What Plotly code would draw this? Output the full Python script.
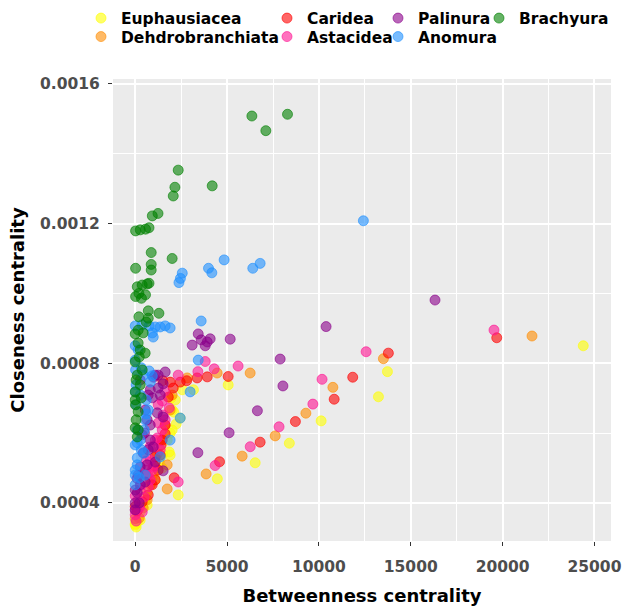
import plotly.graph_objects as go

# ---------------- data ----------------
groups = ["Euphausiacea", "Dehdrobranchiata", "Caridea", "Astacidea",
          "Palinura", "Anomura", "Brachyura"]

euph_x = [24390, 13730, 13240, 10120, 8390, 6530, 4470, 2340, 5060, 2560, 3170,
          2450, 2230, 2010, 1740, 1850, 1310, 1030, 820, 540, 270, 110, 50,
          0, 150, 380, 650, 900, 1200, 1500, 1900, 2100, 1950,
          2180, 2010, 1900, 1470, 1090, 650, 270, 0]
euph_y = [0.000850, 0.000776, 0.000704, 0.000635, 0.000571, 0.000515, 0.000469,
          0.000423, 0.000738, 0.000724, 0.000724, 0.000643, 0.000626, 0.000609,
          0.000580, 0.000546, 0.000517, 0.000486, 0.000452, 0.000409, 0.000374,
          0.000346, 0.000331, 0.000340, 0.000360, 0.000390, 0.000430, 0.000470,
          0.000500, 0.000540, 0.000600, 0.000660, 0.000700,
          0.000695, 0.000666, 0.000537, 0.000500, 0.000466, 0.000394, 0.000351,
          0.000337]

dend_x = [21600, 13510, 10760, 9290, 7620, 5820, 6256, 4460, 2830, 3860, 1740,
          2010, 1900, 1630, 1360, 1740, 820, 650, 435, 218, 0, 100, 1200]
dend_y = [0.000878, 0.000813, 0.000731, 0.000657, 0.000592, 0.000534, 0.000772,
          0.000772, 0.000758, 0.000483, 0.000440, 0.000709, 0.000666, 0.000623,
          0.000580, 0.000509, 0.000452, 0.000409, 0.000386, 0.000357, 0.000355,
          0.000380, 0.000540]

cari_x = [19680, 13780, 11840, 10830, 8720, 6800, 4590, 2120, 3370, 3920, 5060,
          1900, 2450, 2070, 1800, 1630, 1410, 1090, 1030, 1090, 710, 380, 110,
          2800, 1500, 0, 600, 1630, 1360, 1250, 925, 1470]
cari_y = [0.000873, 0.000829, 0.000760, 0.000697, 0.000633, 0.000574, 0.000518,
          0.000472, 0.000758, 0.000761, 0.000762, 0.000746, 0.000746, 0.000729,
          0.000703, 0.000598, 0.000566, 0.000532, 0.000506, 0.000466, 0.000423,
          0.000403, 0.000377, 0.000750, 0.000750, 0.000390, 0.000480, 0.000623,
          0.000537, 0.000494, 0.000452, 0.000580]

asta_x = [19530, 12570, 10170, 9670, 7830, 6260, 4350, 2340, 5600, 4300, 3410,
          3810, 2340, 1470, 1850, 1520, 1250, 1470, 1200, 1030, 980, 930, 820,
          710, 490, 220, 0, 50, 1600, 0, 300, 600, 800,
          1250, 1630, 1090, 1360, 816, 544, 707, 272, 163, 0, 381]
asta_y = [0.000895, 0.000833, 0.000754, 0.000683, 0.000618, 0.000561, 0.000507,
          0.000460, 0.000792, 0.000784, 0.000776, 0.000805, 0.000766, 0.000692,
          0.000672, 0.000652, 0.000629, 0.000609, 0.000586, 0.000563, 0.000503,
          0.000494, 0.000466, 0.000446, 0.000417, 0.000386, 0.000366, 0.000348,
          0.000720, 0.000420, 0.000450, 0.000520, 0.000560,
          0.000681, 0.000638, 0.000580, 0.000552, 0.000523, 0.000494, 0.000480,
          0.000437, 0.000409, 0.000380, 0.000374]

pali_x = [16320, 10390, 7890, 8040, 6650, 5110, 3410, 5170, 3430, 3100, 3920,
          4080, 3810, 3590, 1520, 1250, 1520, 820, 1250, 930, 1200, 1520, 650,
          820, 980, 435, 1090, 650, 270, 540, 110, 0, 220, 0, 100, 500, 1000,
          272, 707, 544, 816, 381, 707, 163, 0, 272, 1088, 1632, 1360]
pali_y = [0.000981, 0.000905, 0.000812, 0.000735, 0.000664, 0.000601, 0.000544,
          0.000869, 0.000884, 0.000852, 0.000861, 0.000870, 0.000850, 0.000867,
          0.000492, 0.000766, 0.000741, 0.000724, 0.000729, 0.000701, 0.000658,
          0.000646, 0.000638, 0.000580, 0.000560, 0.000543, 0.000517, 0.000509,
          0.000503, 0.000460, 0.000429, 0.000400, 0.000400, 0.000380, 0.000470,
          0.000600, 0.000760,
          0.000752, 0.000709, 0.000666, 0.000623, 0.000595, 0.000552, 0.000480,
          0.000437, 0.000452, 0.000766, 0.000775, 0.000709]

anom_x = [12420, 6800, 6400, 4840, 3990, 4170, 2560, 2460, 2380, 3590, 3430,
          2990, 2450, 1900, 1360, 0, 380, 760, 1090, 1360, 1630, 1900, 980, 930,
          20, 330, 760, 930, 820, 50, 10, 600, 50, 710, 600, 490, 110, 110, 330,
          490, 110, 0, 540, 220, 0, 0,
          163, 0, 435, 272, 544, 272, 109, 0, 0]
anom_y = [0.001208, 0.001086, 0.001072, 0.001096, 0.001072, 0.001059, 0.001058,
          0.001043, 0.001031, 0.000921, 0.000809, 0.000718, 0.000643, 0.000580,
          0.000532, 0.000907, 0.000910, 0.000907, 0.000904, 0.000904, 0.000907,
          0.000901, 0.000875, 0.000887, 0.000781, 0.000787, 0.000778, 0.000764,
          0.000746, 0.000738, 0.000718, 0.000695, 0.000681, 0.000666, 0.000655,
          0.000609, 0.000609, 0.000572, 0.000552, 0.000543, 0.000529, 0.000494,
          0.000480, 0.000472, 0.000452, 0.000850,
          0.000838, 0.000809, 0.000766, 0.000709, 0.000638, 0.000580, 0.000509,
          0.000480, 0.000566]

brac_x = [6350, 7110, 8290, 4190, 2340, 2160, 2070, 1240, 930, 750, 560, 270, 20,
          870, 870, 870, 20, 2010, 110, 380, 650, 750, 200, 560, 20, 340, 710,
          1290, 200, 710, 600, 0, 435, 160, 540, 220, 0, 380, 50, 270, 0, 330,
          10, 160, 50, 0, 110, 163, 272, 109, 0, 163]
brac_y = [0.001508, 0.001466, 0.001513, 0.001308, 0.001353, 0.001304, 0.001279,
          0.001229, 0.001222, 0.001188, 0.001184, 0.001182, 0.001179, 0.001117,
          0.001083, 0.001067, 0.001072, 0.001100, 0.001019, 0.001024, 0.001027,
          0.001029, 0.001000, 0.000996, 0.000991, 0.000986, 0.000950, 0.000943,
          0.000933, 0.000929, 0.000918, 0.000884, 0.000887, 0.000858, 0.000829,
          0.000818, 0.000804, 0.000781, 0.000752, 0.000738, 0.000718, 0.000701,
          0.000681, 0.000661, 0.000638, 0.000615, 0.000589, 0.000895, 0.000838,
          0.000766, 0.000695, 0.000609]

xs = [euph_x, dend_x, cari_x, asta_x, pali_x, anom_x, brac_x]
ys = [euph_y, dend_y, cari_y, asta_y, pali_y, anom_y, brac_y]

colors = ["255,255,0", "255,140,0", "255,0,0", "255,20,147",
          "139,0,139", "30,144,255", "0,128,0"]

# legend slot for each group (ggplot-style 2-row, column-major layout)
legend_ids = ["legend", "legend2", "legend3", "legend4", "legend5", "legend6", "legend7"]
legend_row_y = [18.5, 37, 18.5, 37, 18.5, 37, 18.5]
legend_px = [81, 81, 267, 267, 378, 378, 479]

W, H = 627, 608
# plotting panel in pixels
PL, PR, PT, PB = 113, 611, 79, 541
FONT = "DejaVu Sans"

fig = go.Figure()
for g, x, y, c, lid in zip(groups, xs, ys, colors, legend_ids):
    fig.add_trace(go.Scatter(
        x=x, y=y, mode="markers", name=g, legend=lid,
        marker=dict(size=10, color=f"rgba({c},0.6)",
                    line=dict(color=f"rgba({c},0.6)", width=1)),
    ))

layout_legends = {}
for lid, py, px in zip(legend_ids, legend_row_y, legend_px):
    layout_legends[lid] = dict(
        x=px / W, y=1 - py / H, xanchor="left", yanchor="middle",
        bgcolor="rgba(0,0,0,0)", borderwidth=0,
        font=dict(family=FONT, size=15.5, color="black", weight="bold"),
    )

fig.update_layout(
    width=W, height=H,
    margin=dict(l=0, r=0, t=0, b=0),
    paper_bgcolor="white", plot_bgcolor="#EBEBEB",
    showlegend=True,
    **layout_legends,
)

fig.update_xaxes(
    domain=[PL / W, PR / W], automargin=False,
    range=[-1210, 25900], dtick=5000, tick0=0, tickformat="d",
    showgrid=True, gridcolor="white", gridwidth=1.6, zeroline=False,
    minor=dict(dtick=2500, showgrid=True, gridcolor="white", gridwidth=0.8),
    ticks="outside", ticklen=4, tickwidth=1.2, tickcolor="#333333",
    ticklabelstandoff=7,
    tickfont=dict(family=FONT, size=15.5, color="#4D4D4D", weight="bold"),
    title=dict(text="Betweenness centrality", standoff=14,
               font=dict(family=FONT, size=18, color="black", weight="bold")),
    showline=False,
)
fig.update_yaxes(
    domain=[1 - PB / H, 1 - PT / H], automargin=False,
    range=[0.000291, 0.001614], dtick=0.0004, tick0=0, tickformat=".4f",
    showgrid=True, gridcolor="white", gridwidth=1.6, zeroline=False,
    minor=dict(dtick=0.0002, showgrid=True, gridcolor="white", gridwidth=0.8),
    ticks="outside", ticklen=4, tickwidth=1.2, tickcolor="#333333",
    ticklabelstandoff=5,
    tickfont=dict(family=FONT, size=15.5, color="#4D4D4D", weight="bold"),
    title=dict(text="Closeness centrality", standoff=10,
               font=dict(family=FONT, size=18, color="black", weight="bold")),
    showline=False,
)

fig.write_html("out.html")
